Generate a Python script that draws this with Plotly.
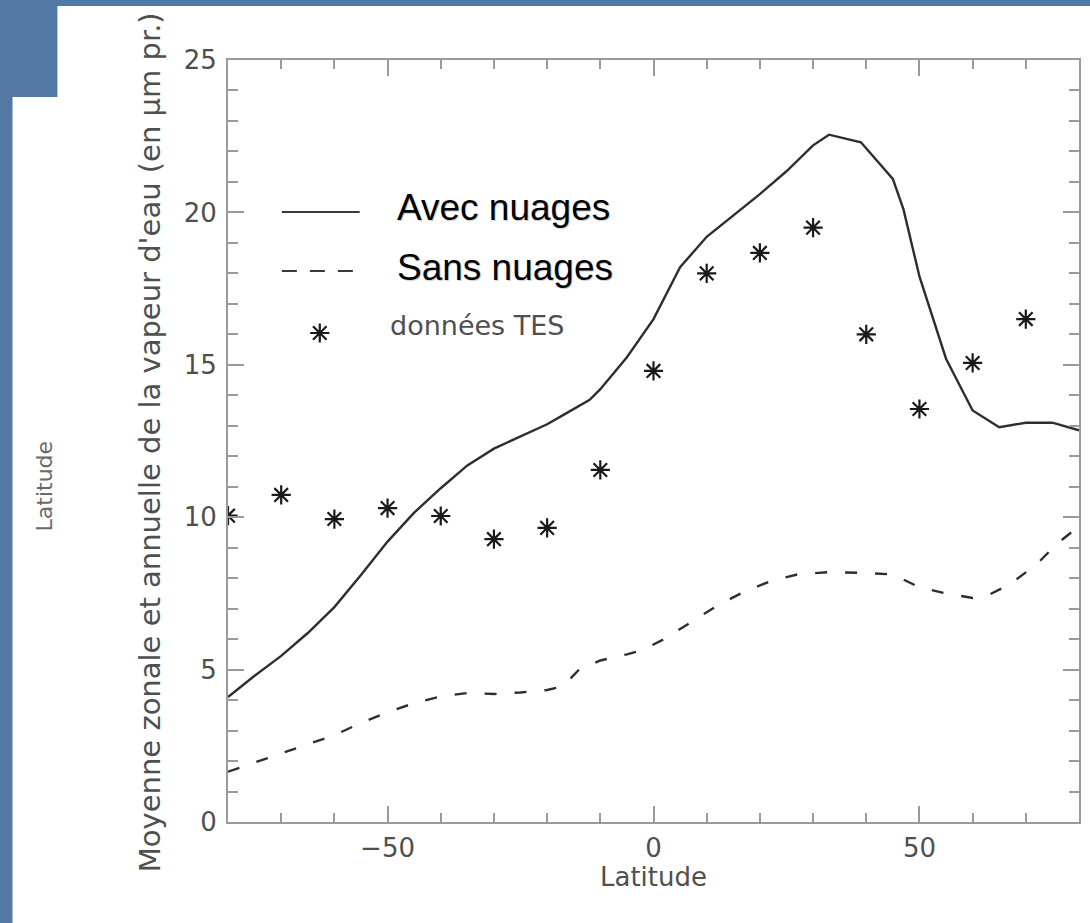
import plotly.graph_objects as go

# ---------------- data ----------------
lat_avec = [-80, -75, -70, -65, -60, -55, -50, -45, -40, -35, -30, -25, -20, -17,
            -12, -10, -5, 0, 5, 10, 15, 20, 25, 30, 33, 39, 45, 47, 50, 55, 60,
            65, 70, 75, 80]
val_avec = [4.1, 4.8, 5.45, 6.2, 7.05, 8.1, 9.2, 10.15, 10.95, 11.7, 12.25, 12.65,
            13.05, 13.35, 13.85, 14.2, 15.25, 16.5, 18.2, 19.2, 19.9, 20.6, 21.35,
            22.2, 22.55, 22.3, 21.1, 20.1, 17.9, 15.2, 13.5, 12.95, 13.1, 13.1, 12.85]

lat_sans = [-80, -75, -70, -65, -60, -55, -50, -45, -40, -35, -30, -25, -20, -17,
            -14, -10, -5, -2, 2, 7, 12, 17, 22, 27, 33, 40, 45, 50, 55, 60, 63,
            67, 72, 76, 80]
val_sans = [1.65, 1.95, 2.25, 2.55, 2.85, 3.25, 3.6, 3.9, 4.12, 4.23, 4.2, 4.25,
            4.33, 4.45, 5.0, 5.3, 5.5, 5.65, 6.0, 6.55, 7.1, 7.55, 7.9, 8.12, 8.2,
            8.17, 8.12, 7.7, 7.5, 7.35, 7.45, 7.8, 8.45, 9.15, 9.7]

lat_tes = [-80, -70, -60, -50, -40, -30, -20, -10, 0, 10, 20, 30, 40, 50, 60, 70]
val_tes = [10.05, 10.73, 9.94, 10.3, 10.04, 9.28, 9.65, 11.55, 14.8, 18.0, 18.67,
           19.5, 16.0, 13.55, 15.06, 16.5]

legend_names = ["Avec nuages", "Sans nuages", "données TES"]
x_title = "Latitude"
y_title = "Moyenne zonale et annuelle de la vapeur d'eau (en μm pr.)"

# ---------------- layout geometry ----------------
W, H = 1090, 923
ML, MR, MT, MB = 228, 9, 60, 101
PW = W - ML - MR
PH = H - MT - MB


def px(x):
    return (x - ML) / PW


def py(y):
    return (H - MB - y) / PH


AX = "#9a9a9a"
TXT = "#4f4f4f"
IDL_FONT = "DejaVu Sans"
LINE = "#2e2e2e"
MARK = "#1a1a1a"

fig = go.Figure()
fig.add_trace(go.Scatter(x=lat_avec, y=val_avec, mode="lines", name=legend_names[0],
                         line=dict(color=LINE, width=2.4)))
fig.add_trace(go.Scatter(x=lat_sans, y=val_sans, mode="lines", name=legend_names[1],
                         line=dict(color=LINE, width=2.4, dash="12px,18px")))
fig.add_trace(go.Scatter(x=lat_tes, y=val_tes, mode="markers", name=legend_names[2],
                         marker=dict(symbol="asterisk-open", size=16, color=MARK,
                                     line=dict(color=MARK, width=2.2))))
# legend marker sample (pixel-space overlay axes)
fig.add_trace(go.Scatter(x=[320], y=[333], xaxis="x2", yaxis="y2", mode="markers",
                         marker=dict(symbol="asterisk-open", size=16, color=MARK,
                                     line=dict(color=MARK, width=2.2)),
                         cliponaxis=False, hoverinfo="skip"))

common_axis = dict(
    ticks="inside", tickwidth=2, tickcolor=AX, showline=True, linecolor=AX,
    linewidth=2, mirror="ticks", showgrid=False, zeroline=False,
    tickfont=dict(family=IDL_FONT, size=26, color=TXT),
)

fig.update_layout(
    width=W, height=H,
    margin=dict(l=ML, r=MR, t=MT, b=MB),
    paper_bgcolor="#5278a4",
    plot_bgcolor="white",
    showlegend=False,
    xaxis=dict(range=[-80, 80], tick0=0, dtick=50, ticklen=16,
               ticklabelstandoff=2,
               minor=dict(tick0=0, dtick=10, ticks="inside", ticklen=9,
                          tickwidth=2, tickcolor=AX, showgrid=False),
               **common_axis),
    yaxis=dict(range=[0, 25], tick0=0, dtick=5, ticklen=16,
               ticklabelstandoff=4,
               minor=dict(tick0=0, dtick=1, ticks="inside", ticklen=10,
                          tickwidth=2, tickcolor=AX, showgrid=False),
               **common_axis),
    xaxis2=dict(overlaying="x", range=[ML, ML + PW], visible=False),
    yaxis2=dict(overlaying="y", range=[H - MB, MT], visible=False),
)

# white slide panel on the blue background
shapes = [
    dict(type="rect", xref="paper", yref="paper", x0=px(57), x1=px(1100),
         y0=py(6), y1=py(940), fillcolor="white", line=dict(width=0), layer="below"),
    dict(type="rect", xref="paper", yref="paper", x0=px(12), x1=px(60),
         y0=py(97), y1=py(940), fillcolor="white", line=dict(width=0), layer="below"),
    # legend line samples
    dict(type="line", xref="paper", yref="paper", x0=px(282), x1=px(360),
         y0=py(212), y1=py(212), line=dict(color="#3a3a3a", width=2)),
    dict(type="line", xref="paper", yref="paper", x0=px(282), x1=px(360),
         y0=py(271), y1=py(271), line=dict(color="#3a3a3a", width=2, dash="15px,13px")),
]
fig.update_layout(shapes=shapes)

ann = []
# legend texts with a soft shadow
for name, yy in ((legend_names[0], 207), (legend_names[1], 267)):
    ann.append(dict(text=name, xref="paper", yref="paper", x=px(396.5), y=py(yy + 1.5),
                    xanchor="left", yanchor="middle", showarrow=False,
                    font=dict(family="Liberation Sans", size=37, color="#d0d0d0")))
    ann.append(dict(text=name, xref="paper", yref="paper", x=px(395), y=py(yy),
                    xanchor="left", yanchor="middle", showarrow=False,
                    font=dict(family="Liberation Sans", size=37, color="black")))
ann.append(dict(text=legend_names[2], xref="paper", yref="paper", x=px(388), y=py(325),
                xanchor="left", yanchor="middle", showarrow=False,
                font=dict(family=IDL_FONT, size=27, color=TXT)))
# axis titles
ann.append(dict(text=x_title, xref="paper", yref="paper", x=px(655), y=py(877),
                xanchor="center", yanchor="middle", showarrow=False,
                font=dict(family=IDL_FONT, size=26, color=TXT)))
ann.append(dict(text=y_title, xref="paper", yref="paper", x=px(150), y=py(442),
                xanchor="center", yanchor="middle", showarrow=False, textangle=-90,
                font=dict(family=IDL_FONT, size=29, color=TXT)))
ann.append(dict(text=x_title, xref="paper", yref="paper", x=px(44), y=py(486),
                xanchor="center", yanchor="middle", showarrow=False, textangle=-90,
                font=dict(family=IDL_FONT, size=22, color="#6a6a6a")))
fig.update_layout(annotations=ann)

fig.write_html("out.html",
               config={"displayModeBar": False},
               post_script="document.body.style.margin='0px';"
                           "document.body.style.padding='0px';")
